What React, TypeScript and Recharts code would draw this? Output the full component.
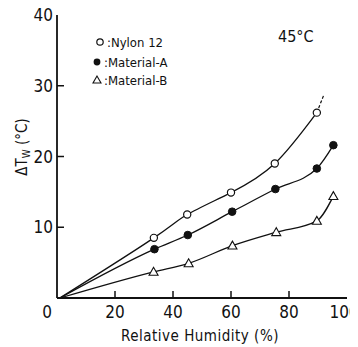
import React from 'react';
import { ComposedChart, Line, XAxis, YAxis } from 'recharts';

// Relative humidity (%) and ΔTw (°C) per material
const humidityNylon = [1, 33.4, 44.9, 60, 75.1, 89.6];
const nylon12 = [0, 8.5, 11.8, 14.9, 19.0, 26.2];
const humidityNylonExt = [89.6, 92.1];
const nylon12Ext = [26.2, 28.8];
const humidityA = [1, 33.6, 45.1, 60.4, 75.3, 89.6, 95.3];
const materialA = [0, 6.9, 8.9, 12.2, 15.4, 18.3, 21.6];
const humidityB = [1, 33.3, 45.4, 60.5, 75.6, 89.6, 95.3];
const materialB = [0, 3.7, 4.9, 7.4, 9.3, 10.9, 14.4];

const xTicks = [0, 20, 40, 60, 80, 100];
const yTicks = [10, 20, 30, 40];

const legendLabels = [':Nylon 12', ':Material-A', ':Material-B'];
const tempLabel = '45°C';
const xLabel = 'Relative Humidity (%)';

const zip = (xs: number[], ys: number[]) => xs.map((x, i) => ({ x, y: ys[i] }));
const nylonData = zip(humidityNylon, nylon12);
const nylonExtData = zip(humidityNylonExt, nylon12Ext);
const aData = zip(humidityA, materialA);
const bData = zip(humidityB, materialB);

const FONT = '"DejaVu Sans Condensed", "Liberation Sans Narrow", "DejaVu Sans", sans-serif';
const NUM_FONT = '"Liberation Sans Narrow", "DejaVu Sans Condensed", sans-serif';
const INK = '#111';

const W = 358;
const H = 347;
const MARGIN = { top: 15, right: 11, left: 8, bottom: 0 };
const Y_TICK_MARGIN = 4;
const X_TICK_MARGIN = 7;
const TICK_LEN = 7;

const YTick = (p: any) => {
  const v = p.payload.value;
  const axisX = p.x + Y_TICK_MARGIN;
  return (
    <g>
      {v !== 40 && (
        <line x1={axisX} x2={axisX + TICK_LEN} y1={p.y} y2={p.y} stroke={INK} strokeWidth={1.5} />
      )}
      <text x={p.x} y={p.y} dy="0.36em" textAnchor="end" fontFamily={NUM_FONT} fontSize={17} fill={INK}>
        {v}
      </text>
    </g>
  );
};

const XTick = (p: any) => {
  const v = p.payload.value;
  const axisY = p.y - X_TICK_MARGIN;
  const shift = v === 0 ? -10 : v === 100 ? -3 : 0;
  return (
    <g>
      {v !== 0 && v !== 100 && (
        <line x1={p.x} x2={p.x} y1={axisY} y2={axisY - TICK_LEN} stroke={INK} strokeWidth={1.5} />
      )}
      <text x={p.x + shift} y={axisY + 20} textAnchor="middle" fontFamily={NUM_FONT} fontSize={17} fill={INK}>
        {v}
      </text>
    </g>
  );
};

const OpenCircle = (p: any) => {
  if (p.index === 0 || p.cx == null) return <g key={p.key ?? p.index} />;
  return <circle key={p.key ?? p.index} cx={p.cx} cy={p.cy} r={3.6} fill="#fff" stroke={INK} strokeWidth={1.2} />;
};
const FilledCircle = (p: any) => {
  if (p.index === 0 || p.cx == null) return <g key={p.key ?? p.index} />;
  return <circle key={p.key ?? p.index} cx={p.cx} cy={p.cy} r={3.8} fill={INK} stroke={INK} strokeWidth={1} />;
};
const Triangle = (p: any) => {
  if (p.index === 0 || p.cx == null) return <g key={p.key ?? p.index} />;
  const s = 4.5;
  const pts = `${p.cx},${p.cy - s} ${p.cx - s},${p.cy + s * 0.75} ${p.cx + s},${p.cy + s * 0.75}`;
  return <polygon key={p.key ?? p.index} points={pts} fill="#fff" stroke={INK} strokeWidth={1.1} />;
};

export default function App() {
  return (
    <div style={{ position: 'relative', width: W, height: H, margin: '-8px 0 0 -8px' }}>
      <ComposedChart width={W} height={H} margin={MARGIN}>
        <XAxis
          dataKey="x"
          type="number"
          domain={[0, 100]}
          ticks={xTicks}
          interval={0}
          allowDataOverflow
          height={49}
          tickSize={0}
          tickMargin={X_TICK_MARGIN}
          tick={XTick}
          axisLine={{ stroke: INK, strokeWidth: 1.8 }}
          tickLine={false}
        />
        <XAxis
          xAxisId="top"
          orientation="top"
          type="number"
          domain={[0, 100]}
          height={0}
          tick={false}
          tickLine={false}
          axisLine={{ stroke: INK, strokeWidth: 1.6 }}
        />
        <YAxis
          type="number"
          domain={[0, 40]}
          ticks={yTicks}
          interval={0}
          width={49}
          tickSize={0}
          tickMargin={Y_TICK_MARGIN}
          tick={YTick}
          axisLine={{ stroke: INK, strokeWidth: 1.8 }}
          tickLine={false}
        />
        <YAxis
          yAxisId="right"
          orientation="right"
          type="number"
          domain={[0, 40]}
          width={0}
          tick={false}
          tickLine={false}
          axisLine={{ stroke: INK, strokeWidth: 1.6 }}
        />
        <Line
          data={bData}
          dataKey="y"
          type="monotone"
          stroke={INK}
          strokeWidth={1.3}
          dot={Triangle}
          activeDot={false}
          isAnimationActive={false}
        />
        <Line
          data={aData}
          dataKey="y"
          type="monotone"
          stroke={INK}
          strokeWidth={1.3}
          dot={FilledCircle}
          activeDot={false}
          isAnimationActive={false}
        />
        <Line
          data={nylonExtData}
          dataKey="y"
          type="linear"
          stroke={INK}
          strokeWidth={1.2}
          strokeDasharray="3 2"
          dot={false}
          activeDot={false}
          isAnimationActive={false}
        />
        <Line
          data={nylonData}
          dataKey="y"
          type="natural"
          stroke={INK}
          strokeWidth={1.3}
          dot={OpenCircle}
          activeDot={false}
          isAnimationActive={false}
        />
      </ComposedChart>
      <svg
        width={W}
        height={H}
        style={{ position: 'absolute', left: 0, top: 0, pointerEvents: 'none' }}
      >
        <g fontFamily={FONT} fill={INK}>
          <circle cx={100} cy={42} r={3.2} fill="#fff" stroke={INK} strokeWidth={1.2} />
          <text x={107} y={46.5} fontSize={13}>{legendLabels[0]}</text>
          <circle cx={97} cy={62} r={3.4} fill={INK} />
          <text x={104} y={66.5} fontSize={13}>{legendLabels[1]}</text>
          <polygon points="97,76 93,83 101,83" fill="#fff" stroke={INK} strokeWidth={1.1} />
          <text x={104} y={84.5} fontSize={13}>{legendLabels[2]}</text>
          <text x={278} y={42} fontSize={16}>{tempLabel}</text>
          <text x={200} y={341} fontSize={15} textAnchor="middle" letterSpacing={0.5}>{xLabel}</text>
          <text transform="translate(27,147) rotate(-90)" fontSize={15} textAnchor="middle">
            ΔT<tspan fontSize={10} dy={3}>W</tspan>
            <tspan dy={-3}> (°C)</tspan>
          </text>
        </g>
      </svg>
    </div>
  );
}
